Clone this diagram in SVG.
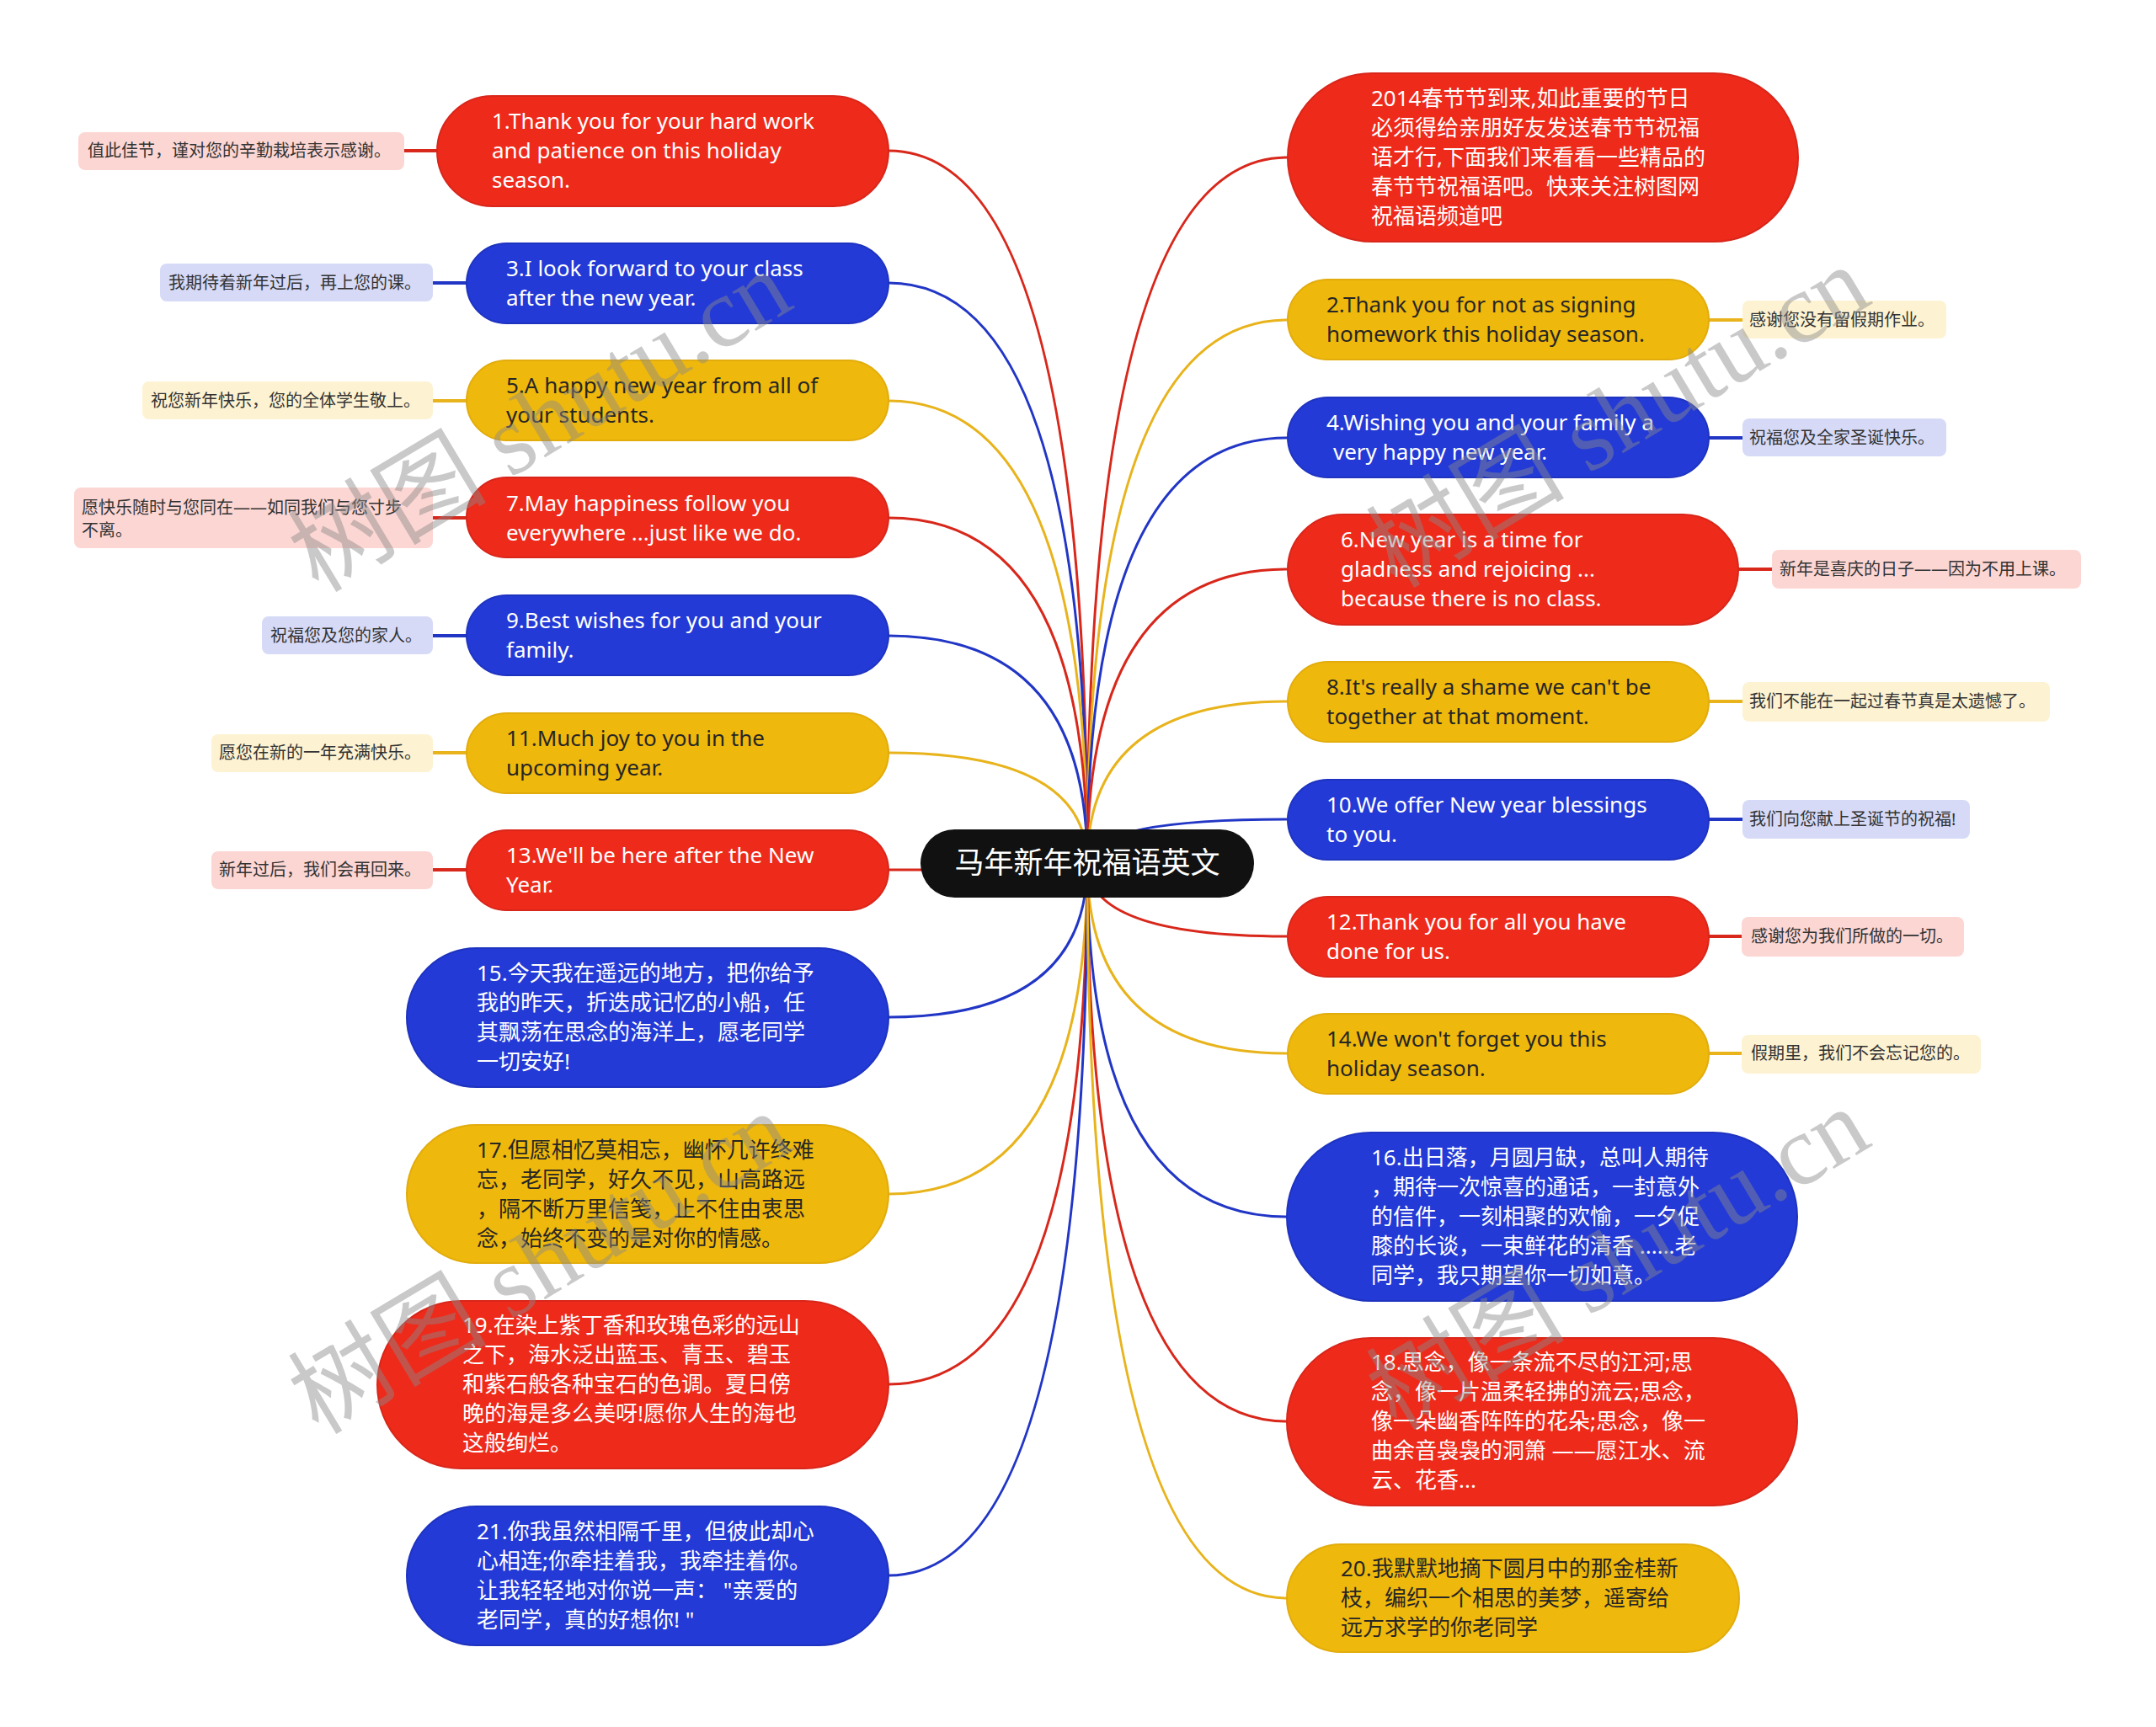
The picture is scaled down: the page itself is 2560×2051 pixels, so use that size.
<svg xmlns="http://www.w3.org/2000/svg" width="2560" height="2051" viewBox="0 0 2560 2051">
<style>
.red{fill:#EE2A1B;stroke:#D9261A;stroke-width:2}
.blue{fill:#233AD6;stroke:#1E33C0;stroke-width:2}
.yel{fill:#EFB80C;stroke:#E2AC0C;stroke-width:2}
.np{fill:#FCD6D3}
.nb{fill:#D6DAF7}
.nc{fill:#FDF2D1}
text{font-family:"Noto Sans","Noto Sans CJK SC",sans-serif}
.tw{fill:#FFFFFF;font-size:26px}
.td{fill:#262626;font-size:26px}
.tn{fill:#333333;font-size:20px}
.c{fill:none;stroke-width:3}
.cl{fill:none;stroke-width:4}
.sr{stroke:#D8271B}
.sb{stroke:#2236C6}
.sy{stroke:#E8B31B}
.wm{font-family:"Liberation Serif","Noto Sans CJK SC",serif;font-size:118px;fill:#8a8a8a;opacity:0.45}
</style>
<rect width="2560" height="2051" fill="#FFFFFF"/>
<g id="connectors">
<path class="c sr" d="M1291 1025 Q1291 179 1055 179"/>
<path class="c sb" d="M1291 1025 Q1291 336 1055 336"/>
<path class="c sy" d="M1291 1025 Q1291 476 1055 476"/>
<path class="c sr" d="M1291 1025 Q1291 615 1055 615"/>
<path class="c sb" d="M1291 1025 Q1291 755 1055 755"/>
<path class="c sy" d="M1291 1025 Q1291 894 1055 894"/>
<path class="c sr" d="M1291 1025 Q1291 1033 1055 1033"/>
<path class="c sb" d="M1291 1025 Q1291 1208 1055 1208"/>
<path class="c sy" d="M1291 1025 Q1291 1418 1055 1418"/>
<path class="c sr" d="M1291 1025 Q1291 1644 1055 1644"/>
<path class="c sb" d="M1291 1025 Q1291 1871 1055 1871"/>
<path class="c sr" d="M1291 1025 Q1291 187 1528 187"/>
<path class="c sy" d="M1291 1025 Q1291 380 1528 380"/>
<path class="c sb" d="M1291 1025 Q1291 520 1528 520"/>
<path class="c sr" d="M1291 1025 Q1291 676 1528 676"/>
<path class="c sy" d="M1291 1025 Q1291 833 1528 833"/>
<path class="c sb" d="M1291 1025 Q1291 973 1528 973"/>
<path class="c sr" d="M1291 1025 Q1291 1112 1528 1112"/>
<path class="c sy" d="M1291 1025 Q1291 1251 1528 1251"/>
<path class="c sb" d="M1291 1025 Q1291 1445 1528 1445"/>
<path class="c sr" d="M1291 1025 Q1291 1688 1528 1688"/>
<path class="c sy" d="M1291 1025 Q1291 1898 1528 1898"/>
<path class="cl sr" d="M480 179H519"/>
<path class="cl sb" d="M514 336H554"/>
<path class="cl sy" d="M514 476H554"/>
<path class="cl sr" d="M514 615H554"/>
<path class="cl sb" d="M514 755H554"/>
<path class="cl sy" d="M514 894H554"/>
<path class="cl sr" d="M514 1033H554"/>
<path class="cl sy" d="M2029 380H2069"/>
<path class="cl sb" d="M2029 520H2069"/>
<path class="cl sr" d="M2064 676H2104"/>
<path class="cl sy" d="M2029 833H2069"/>
<path class="cl sb" d="M2029 973H2069"/>
<path class="cl sr" d="M2029 1112H2068"/>
<path class="cl sy" d="M2029 1251H2068"/>
</g>
<g id="center">
<rect x="1093" y="985" width="396" height="81" rx="40.5" fill="#111111"/>
<text x="1291" y="1037" text-anchor="middle" style="font-family:'Noto Sans CJK SC',sans-serif;font-size:35px;fill:#FFFFFF">马年新年祝福语英文</text>
</g>
<g id="n1">
<rect class="red" x="519" y="114" width="536" height="131" rx="65.5"/>
<text class="tw" x="584" y="153">1.Thank you for your hard work</text>
<text class="tw" x="584" y="188">and patience on this holiday</text>
<text class="tw" x="584" y="223">season.</text>
</g>
<g id="n1note">
<rect class="np" x="93" y="157" width="387" height="45" rx="8"/>
<text class="tn" x="104" y="186">值此佳节，谨对您的辛勤栽培表示感谢。</text>
</g>
<g id="n3">
<rect class="blue" x="554" y="289" width="501" height="95" rx="47.5"/>
<text class="tw" x="601" y="328">3.I look forward to your class</text>
<text class="tw" x="601" y="363">after the new year.</text>
</g>
<g id="n3note">
<rect class="nb" x="190" y="313" width="324" height="45" rx="8"/>
<text class="tn" x="200" y="343">我期待着新年过后，再上您的课。</text>
</g>
<g id="n5">
<rect class="yel" x="554" y="428" width="501" height="95" rx="47.5"/>
<text class="td" x="601" y="467">5.A happy new year from all of</text>
<text class="td" x="601" y="502">your students.</text>
</g>
<g id="n5note">
<rect class="nc" x="169" y="453" width="345" height="45" rx="8"/>
<text class="tn" x="179" y="483">祝您新年快乐，您的全体学生敬上。</text>
</g>
<g id="n7">
<rect class="red" x="554" y="567" width="501" height="95" rx="47.5"/>
<text class="tw" x="601" y="607">7.May happiness follow you</text>
<text class="tw" x="601" y="642">everywhere ...just like we do.</text>
</g>
<g id="n7note">
<rect class="np" x="88" y="579" width="426" height="72" rx="8"/>
<text class="tn" x="97" y="610">愿快乐随时与您同在——如同我们与您寸步</text>
<text class="tn" x="97" y="637">不离。</text>
</g>
<g id="n9">
<rect class="blue" x="554" y="707" width="501" height="95" rx="47.5"/>
<text class="tw" x="601" y="746">9.Best wishes for you and your</text>
<text class="tw" x="601" y="781">family.</text>
</g>
<g id="n9note">
<rect class="nb" x="311" y="732" width="203" height="45" rx="8"/>
<text class="tn" x="321" y="762">祝福您及您的家人。</text>
</g>
<g id="n11">
<rect class="yel" x="554" y="847" width="501" height="95" rx="47.5"/>
<text class="td" x="601" y="886">11.Much joy to you in the</text>
<text class="td" x="601" y="921">upcoming year.</text>
</g>
<g id="n11note">
<rect class="nc" x="251" y="872" width="263" height="45" rx="8"/>
<text class="tn" x="260" y="901">愿您在新的一年充满快乐。</text>
</g>
<g id="n13">
<rect class="red" x="554" y="986" width="501" height="95" rx="47.5"/>
<text class="tw" x="601" y="1025">13.We'll be here after the New</text>
<text class="tw" x="601" y="1060">Year.</text>
</g>
<g id="n13note">
<rect class="np" x="251" y="1011" width="263" height="45" rx="8"/>
<text class="tn" x="260" y="1040">新年过后，我们会再回来。</text>
</g>
<g id="n15">
<rect class="blue" x="483" y="1126" width="572" height="165" rx="82.5"/>
<text class="tw" x="566" y="1165">15.今天我在遥远的地方，把你给予</text>
<text class="tw" x="566" y="1200">我的昨天，折迭成记忆的小船，任</text>
<text class="tw" x="566" y="1235">其飘荡在思念的海洋上，愿老同学</text>
<text class="tw" x="566" y="1270">一切安好!</text>
</g>
<g id="n17">
<rect class="yel" x="483" y="1336" width="572" height="164" rx="82"/>
<text class="td" x="566" y="1375">17.但愿相忆莫相忘，幽怀几许终难</text>
<text class="td" x="566" y="1410">忘，老同学，好久不见，山高路远</text>
<text class="td" x="566" y="1445">，隔不断万里信笺，止不住由衷思</text>
<text class="td" x="566" y="1480">念，始终不变的是对你的情感。</text>
</g>
<g id="n19">
<rect class="red" x="448" y="1545" width="607" height="199" rx="99.5"/>
<text class="tw" x="549" y="1583">19.在染上紫丁香和玫瑰色彩的远山</text>
<text class="tw" x="549" y="1618">之下，海水泛出蓝玉、青玉、碧玉</text>
<text class="tw" x="549" y="1653">和紫石般各种宝石的色调。夏日傍</text>
<text class="tw" x="549" y="1688">晚的海是多么美呀!愿你人生的海也</text>
<text class="tw" x="549" y="1723">这般绚烂。</text>
</g>
<g id="n21">
<rect class="blue" x="483" y="1789" width="572" height="165" rx="82.5"/>
<text class="tw" x="566" y="1828">21.你我虽然相隔千里，但彼此却心</text>
<text class="tw" x="566" y="1863">心相连;你牵挂着我，我牵挂着你。</text>
<text class="tw" x="566" y="1898">让我轻轻地对你说一声： "亲爱的</text>
<text class="tw" x="566" y="1933">老同学，真的好想你! "</text>
</g>
<g id="n0">
<rect class="red" x="1529" y="87" width="606" height="200" rx="100"/>
<text class="tw" x="1628" y="126">2014春节节到来,如此重要的节日</text>
<text class="tw" x="1628" y="161">必须得给亲朋好友发送春节节祝福</text>
<text class="tw" x="1628" y="196">语才行,下面我们来看看一些精品的</text>
<text class="tw" x="1628" y="231">春节节祝福语吧。快来关注树图网</text>
<text class="tw" x="1628" y="266">祝福语频道吧</text>
</g>
<g id="n2">
<rect class="yel" x="1529" y="332" width="500" height="95" rx="47.5"/>
<text class="td" x="1575" y="371">2.Thank you for not as signing</text>
<text class="td" x="1575" y="406">homework this holiday season.</text>
</g>
<g id="n2note">
<rect class="nc" x="2069" y="357" width="242" height="45" rx="8"/>
<text class="tn" x="2077" y="387">感谢您没有留假期作业。</text>
</g>
<g id="n4">
<rect class="blue" x="1529" y="472" width="500" height="95" rx="47.5"/>
<text class="tw" x="1575" y="511">4.Wishing you and your family a</text>
<text class="tw" x="1583" y="546">very happy new year.</text>
</g>
<g id="n4note">
<rect class="nb" x="2069" y="497" width="242" height="45" rx="8"/>
<text class="tn" x="2077" y="527">祝福您及全家圣诞快乐。</text>
</g>
<g id="n6">
<rect class="red" x="1529" y="611" width="535" height="131" rx="65.5"/>
<text class="tw" x="1592" y="650">6.New year is a time for</text>
<text class="tw" x="1592" y="685">gladness and rejoicing ...</text>
<text class="tw" x="1592" y="720">because there is no class.</text>
</g>
<g id="n6note">
<rect class="np" x="2104" y="653" width="367" height="46" rx="8"/>
<text class="tn" x="2113" y="683">新年是喜庆的日子——因为不用上课。</text>
</g>
<g id="n8">
<rect class="yel" x="1529" y="786" width="500" height="95" rx="47.5"/>
<text class="td" x="1575" y="825">8.It's really a shame we can't be</text>
<text class="td" x="1575" y="860">together at that moment.</text>
</g>
<g id="n8note">
<rect class="nc" x="2069" y="810" width="365" height="47" rx="8"/>
<text class="tn" x="2077" y="840">我们不能在一起过春节真是太遗憾了。</text>
</g>
<g id="n10">
<rect class="blue" x="1529" y="926" width="500" height="95" rx="47.5"/>
<text class="tw" x="1575" y="965">10.We offer New year blessings</text>
<text class="tw" x="1575" y="1000">to you.</text>
</g>
<g id="n10note">
<rect class="nb" x="2069" y="950" width="270" height="46" rx="8"/>
<text class="tn" x="2077" y="980">我们向您献上圣诞节的祝福!</text>
</g>
<g id="n12">
<rect class="red" x="1529" y="1065" width="500" height="95" rx="47.5"/>
<text class="tw" x="1575" y="1104">12.Thank you for all you have</text>
<text class="tw" x="1575" y="1139">done for us.</text>
</g>
<g id="n12note">
<rect class="np" x="2068" y="1089" width="264" height="47" rx="8"/>
<text class="tn" x="2079" y="1119">感谢您为我们所做的一切。</text>
</g>
<g id="n14">
<rect class="yel" x="1529" y="1204" width="500" height="95" rx="47.5"/>
<text class="td" x="1575" y="1243">14.We won't forget you this</text>
<text class="td" x="1575" y="1278">holiday season.</text>
</g>
<g id="n14note">
<rect class="nc" x="2068" y="1229" width="284" height="46" rx="8"/>
<text class="tn" x="2079" y="1258">假期里，我们不会忘记您的。</text>
</g>
<g id="n16">
<rect class="blue" x="1528" y="1345" width="606" height="200" rx="100"/>
<text class="tw" x="1628" y="1384">16.出日落，月圆月缺，总叫人期待</text>
<text class="tw" x="1628" y="1419">，期待一次惊喜的通话，一封意外</text>
<text class="tw" x="1628" y="1454">的信件，一刻相聚的欢愉，一夕促</text>
<text class="tw" x="1628" y="1489">膝的长谈，一束鲜花的清香 ......老</text>
<text class="tw" x="1628" y="1524">同学，我只期望你一切如意。</text>
</g>
<g id="n18">
<rect class="red" x="1528" y="1589" width="606" height="199" rx="99.5"/>
<text class="tw" x="1628" y="1627">18.思念，像一条流不尽的江河;思</text>
<text class="tw" x="1628" y="1662">念，像一片温柔轻拂的流云;思念，</text>
<text class="tw" x="1628" y="1697">像一朵幽香阵阵的花朵;思念，像一</text>
<text class="tw" x="1628" y="1732">曲余音袅袅的洞箫 ——愿江水、流</text>
<text class="tw" x="1628" y="1767">云、花香...</text>
</g>
<g id="n20">
<rect class="yel" x="1528" y="1834" width="537" height="128" rx="64"/>
<text class="td" x="1592" y="1872">20.我默默地摘下圆月中的那金桂新</text>
<text class="td" x="1592" y="1907">枝，编织一个相思的美梦，遥寄给</text>
<text class="td" x="1592" y="1942">远方求学的你老同学</text>
</g>
<g id="watermarks">
<text class="wm" transform="translate(378 705) rotate(-31)">树图 shutu.cn</text>
<text class="wm" transform="translate(1658 700) rotate(-31)">树图 shutu.cn</text>
<text class="wm" transform="translate(378 1705) rotate(-31)">树图 shutu.cn</text>
<text class="wm" transform="translate(1658 1700) rotate(-31)">树图 shutu.cn</text>
</g>
</svg>
